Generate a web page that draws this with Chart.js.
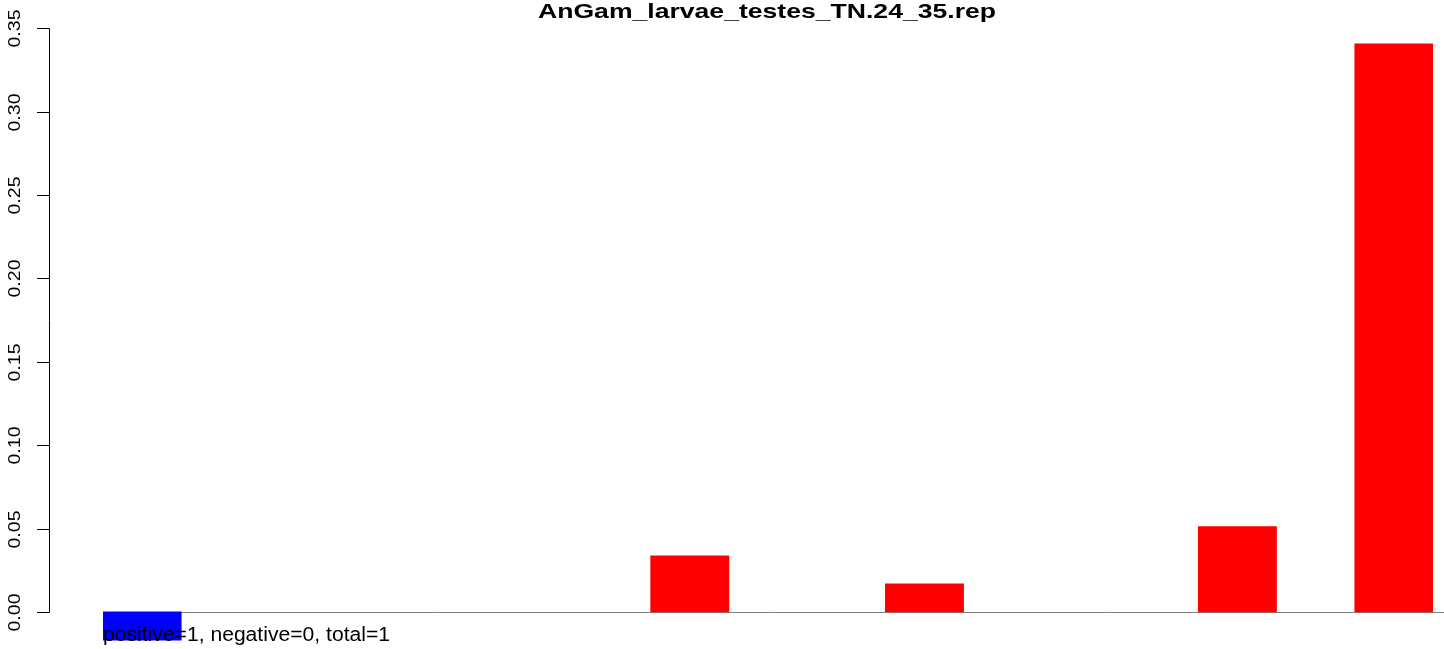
<!DOCTYPE html>
<html>
<head>
<meta charset="utf-8">
<script src="https://cdn.jsdelivr.net/npm/chart.js@4/dist/chart.umd.min.js"></script>
<style>
html,body{margin:0;padding:0;background:#fff;overflow:hidden;}
canvas{display:block;}
</style>
</head>
<body>
<canvas id="c" width="1444" height="649"></canvas>
<script>
const chartTitle = "AnGam_larvae_testes_TN.24_35.rep";
const footNote = "positive=1, negative=0, total=1";
const categories = ["1","2","3","4","5","6","7","8","9","10","11","12","13","14","15","16","17"];
const values = [-0.0169, 0, 0, 0, 0, 0, 0, 0.0337, 0, 0, 0.0169, 0, 0, 0, 0.0512, 0, 0.3406];
const yTicks = [0, 0.05, 0.10, 0.15, 0.20, 0.25, 0.30, 0.35];
const yTickLabels = ["0.00","0.05","0.10","0.15","0.20","0.25","0.30","0.35"];

const barColors = values.map(v => v < 0 ? "#0000FF" : (v > 0 ? "#FF0000" : "rgba(0,0,0,0)"));

function fitText(ctx, text, x, y, targetWidth, align) {
  const w = ctx.measureText(text).width;
  const s = targetWidth / w;
  ctx.save();
  ctx.translate(x, y);
  ctx.scale(s, 1);
  ctx.textAlign = align;
  ctx.fillText(text, 0, 0);
  ctx.restore();
}

const rPlot = {
  id: 'rPlot',
  beforeDatasetsDraw(chart) {
    const ctx = chart.ctx, y = chart.scales.y;
    const y0 = Math.round(y.getPixelForValue(0)) + 0.5;
    ctx.save();
    ctx.strokeStyle = "#808080";
    ctx.lineWidth = 1;
    ctx.beginPath();
    ctx.moveTo(chart.chartArea.left, y0);
    ctx.lineTo(1444, y0);
    ctx.stroke();
    ctx.restore();
  },
  afterDatasetsDraw(chart) {
    const ctx = chart.ctx, y = chart.scales.y;
    ctx.save();
    ctx.fillStyle = "#000";
    ctx.strokeStyle = "#000";
    ctx.lineWidth = 1;
    const ax = 49.5;
    const yTop = y.getPixelForValue(yTicks[yTicks.length - 1]);
    const yBot = y.getPixelForValue(yTicks[0]);
    ctx.beginPath();
    ctx.moveTo(ax, Math.round(yTop) + 0.5);
    ctx.lineTo(ax, Math.round(yBot) + 0.5);
    ctx.stroke();
    ctx.font = "17px 'Liberation Sans', Arial, sans-serif";
    yTicks.forEach((t, i) => {
      const py = Math.round(y.getPixelForValue(t)) + 0.5;
      ctx.beginPath();
      ctx.moveTo(37, py);
      ctx.lineTo(ax, py);
      ctx.stroke();
      ctx.save();
      ctx.translate(20, py);
      ctx.rotate(-Math.PI / 2);
      ctx.textBaseline = "alphabetic";
      fitText(ctx, yTickLabels[i], 0, 0, 38, "center");
      ctx.restore();
    });
    ctx.font = "bold 21px 'Liberation Sans', Arial, sans-serif";
    ctx.textBaseline = "alphabetic";
    fitText(ctx, chartTitle, 767, 18, 458, "center");
    ctx.font = "20px 'Liberation Sans', Arial, sans-serif";
    fitText(ctx, footNote, chart.chartArea.left, 641, 287, "left");
    ctx.restore();
  }
};

new Chart(document.getElementById('c'), {
  type: 'bar',
  data: {
    labels: categories,
    datasets: [{
      data: values,
      backgroundColor: barColors,
      borderWidth: 0,
      categoryPercentage: 1.0,
      barPercentage: 1.0
    }]
  },
  options: {
    responsive: false,
    animation: false,
    devicePixelRatio: 1,
    layout: { padding: { left: 103, right: 11, top: 11.6, bottom: 3.7 } },
    plugins: { legend: { display: false }, tooltip: { enabled: false }, title: { display: false } },
    scales: {
      x: { display: false, offset: true },
      y: { display: false, min: -0.02, max: 0.36 }
    }
  },
  plugins: [rPlot]
});
</script>
</body>
</html>
